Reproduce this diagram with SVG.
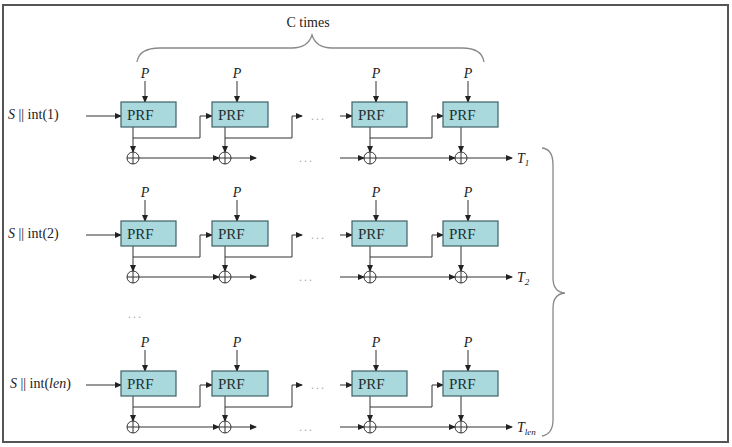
<svg xmlns="http://www.w3.org/2000/svg" width="732" height="447" viewBox="0 0 732 447" font-family="'Liberation Serif', 'Times New Roman', Times, serif">
<defs>
<marker id="ah" markerUnits="userSpaceOnUse" markerWidth="7" markerHeight="6" refX="6" refY="3" orient="auto"><path d="M0,0 L7,3 L0,6 z" fill="#222"/></marker>
<g id="xor"><circle r="6" fill="#fff" stroke="#333" stroke-width="1"/><path d="M-6,0 H6 M0,-6 V6" stroke="#333" stroke-width="1"/></g>
</defs>
<style>
text{font-family:'Liberation Serif','Times New Roman',Times,serif}
.box{fill:#aad9dd;stroke:#3f6166;stroke-width:1.2}
.lbl{font-size:14px;fill:#222}
.prf{font-size:15px;fill:#1e2e30}
.it{font-style:italic}
.dots{font-size:12px;fill:#aaa;letter-spacing:2px}
.ar{fill:none;stroke:#333;stroke-width:1;marker-end:url(#ah)}
.brace{fill:none;stroke:#888;stroke-width:1.3}
</style>
<rect x="3" y="5" width="725" height="437" fill="#fff" stroke="#555" stroke-width="2"/>

<g id="top-brace">
<text class="lbl" x="308" y="27" text-anchor="middle" font-size="13">C times</text>
<path class="brace" d="M137,62 Q139,48 160,48 L292,48 Q308,48 312,35 Q316,48 332,48 L462,48 Q482,48 484,62"/>
</g>
<g id="right-brace">
<path class="brace" d="M542,148 Q553,149 553,165 V278 Q553,292 565,293 Q553,294 553,308 V420 Q553,434 542,436"/>
</g>

<g id="connectors">
<path class="ar" d="M86,116 H121"/>
<path class="ar" d="M145,81 V102"/><path class="ar" d="M237,81 V102"/><path class="ar" d="M376,81 V102"/><path class="ar" d="M468,81 V102"/>
<path class="ar" d="M133,127 V152"/><path class="ar" d="M225,127 V152"/><path class="ar" d="M370,127 V152"/><path class="ar" d="M461,127 V152"/>
<path class="ar" d="M133,138 H200 V116 H212"/>
<path class="ar" d="M225,138 H292 V116 H302"/>
<path class="ar" d="M340,116 H352"/>
<path class="ar" d="M370,138 H432 V116 H443"/>
<path class="ar" d="M139,158 H219"/><path class="ar" d="M231,158 H256"/>
<path class="ar" d="M340,158 H364"/><path class="ar" d="M376,158 H455"/><path class="ar" d="M467,158 H512"/>
<g transform="translate(0,119)">
<path class="ar" d="M86,116 H121"/>
<path class="ar" d="M145,81 V102"/><path class="ar" d="M237,81 V102"/><path class="ar" d="M376,81 V102"/><path class="ar" d="M468,81 V102"/>
<path class="ar" d="M133,127 V152"/><path class="ar" d="M225,127 V152"/><path class="ar" d="M370,127 V152"/><path class="ar" d="M461,127 V152"/>
<path class="ar" d="M133,138 H200 V116 H212"/>
<path class="ar" d="M225,138 H292 V116 H302"/>
<path class="ar" d="M340,116 H352"/>
<path class="ar" d="M370,138 H432 V116 H443"/>
<path class="ar" d="M139,158 H219"/><path class="ar" d="M231,158 H256"/>
<path class="ar" d="M340,158 H364"/><path class="ar" d="M376,158 H455"/><path class="ar" d="M467,158 H512"/>
</g>
<g transform="translate(0,269)">
<path class="ar" d="M86,116 H121"/>
<path class="ar" d="M145,81 V102"/><path class="ar" d="M237,81 V102"/><path class="ar" d="M376,81 V102"/><path class="ar" d="M468,81 V102"/>
<path class="ar" d="M133,127 V152"/><path class="ar" d="M225,127 V152"/><path class="ar" d="M370,127 V152"/><path class="ar" d="M461,127 V152"/>
<path class="ar" d="M133,138 H200 V116 H212"/>
<path class="ar" d="M225,138 H292 V116 H302"/>
<path class="ar" d="M340,116 H352"/>
<path class="ar" d="M370,138 H432 V116 H443"/>
<path class="ar" d="M139,158 H219"/><path class="ar" d="M231,158 H256"/>
<path class="ar" d="M340,158 H364"/><path class="ar" d="M376,158 H455"/><path class="ar" d="M467,158 H512"/>
</g>
</g>

<g id="row1">
<g id="in1"><text class="lbl" x="8" y="119"><tspan class="it">S</tspan> || int(1)</text></g>
<g id="p1-1"><text class="lbl it" x="145" y="78" text-anchor="middle">P</text></g>
<g id="p1-2"><text class="lbl it" x="237" y="78" text-anchor="middle">P</text></g>
<g id="p1-3"><text class="lbl it" x="376" y="78" text-anchor="middle">P</text></g>
<g id="p1-4"><text class="lbl it" x="468" y="78" text-anchor="middle">P</text></g>
<g id="prf1-1"><rect class="box" x="121" y="102" width="55" height="25"/><text class="prf" x="127" y="120">PRF</text></g>
<g id="prf1-2"><rect class="box" x="212" y="102" width="56" height="25"/><text class="prf" x="218" y="120">PRF</text></g>
<g id="prf1-3"><rect class="box" x="352" y="102" width="55" height="25"/><text class="prf" x="358" y="120">PRF</text></g>
<g id="prf1-4"><rect class="box" x="443" y="102" width="55" height="25"/><text class="prf" x="449" y="120">PRF</text></g>
<g id="x1-1"><use href="#xor" x="133" y="158"/></g>
<g id="x1-2"><use href="#xor" x="225" y="158"/></g>
<g id="x1-3"><use href="#xor" x="370" y="158"/></g>
<g id="x1-4"><use href="#xor" x="461" y="158"/></g>
<g id="d1"><text class="dots" x="311" y="120">...</text><text class="dots" x="299" y="162">...</text></g>
<g id="t1"><text class="lbl it" x="517" y="163">T<tspan font-size="9" dy="3">1</tspan></text></g>
</g>

<g id="row2">
<g id="in2"><text class="lbl" x="8" y="238"><tspan class="it">S</tspan> || int(2)</text></g>
<g id="p2-1"><text class="lbl it" x="145" y="197" text-anchor="middle">P</text></g>
<g id="p2-2"><text class="lbl it" x="237" y="197" text-anchor="middle">P</text></g>
<g id="p2-3"><text class="lbl it" x="376" y="197" text-anchor="middle">P</text></g>
<g id="p2-4"><text class="lbl it" x="468" y="197" text-anchor="middle">P</text></g>
<g id="prf2-1"><rect class="box" x="121" y="221" width="55" height="25"/><text class="prf" x="127" y="239">PRF</text></g>
<g id="prf2-2"><rect class="box" x="212" y="221" width="56" height="25"/><text class="prf" x="218" y="239">PRF</text></g>
<g id="prf2-3"><rect class="box" x="352" y="221" width="55" height="25"/><text class="prf" x="358" y="239">PRF</text></g>
<g id="prf2-4"><rect class="box" x="443" y="221" width="55" height="25"/><text class="prf" x="449" y="239">PRF</text></g>
<g id="x2-1"><use href="#xor" x="133" y="277"/></g>
<g id="x2-2"><use href="#xor" x="225" y="277"/></g>
<g id="x2-3"><use href="#xor" x="370" y="277"/></g>
<g id="x2-4"><use href="#xor" x="461" y="277"/></g>
<g id="d2"><text class="dots" x="311" y="239">...</text><text class="dots" x="299" y="281">...</text></g>
<g id="t2"><text class="lbl it" x="517" y="282">T<tspan font-size="9" dy="3">2</tspan></text></g>
</g>

<g id="dots-mid"><text class="dots" x="128" y="318">...</text></g>

<g id="row3">
<g id="in3"><text class="lbl" x="10" y="388"><tspan class="it">S</tspan> || int(<tspan class="it">len</tspan>)</text></g>
<g id="p3-1"><text class="lbl it" x="145" y="347" text-anchor="middle">P</text></g>
<g id="p3-2"><text class="lbl it" x="237" y="347" text-anchor="middle">P</text></g>
<g id="p3-3"><text class="lbl it" x="376" y="347" text-anchor="middle">P</text></g>
<g id="p3-4"><text class="lbl it" x="468" y="347" text-anchor="middle">P</text></g>
<g id="prf3-1"><rect class="box" x="121" y="371" width="55" height="25"/><text class="prf" x="127" y="389">PRF</text></g>
<g id="prf3-2"><rect class="box" x="212" y="371" width="56" height="25"/><text class="prf" x="218" y="389">PRF</text></g>
<g id="prf3-3"><rect class="box" x="352" y="371" width="55" height="25"/><text class="prf" x="358" y="389">PRF</text></g>
<g id="prf3-4"><rect class="box" x="443" y="371" width="55" height="25"/><text class="prf" x="449" y="389">PRF</text></g>
<g id="x3-1"><use href="#xor" x="133" y="427"/></g>
<g id="x3-2"><use href="#xor" x="225" y="427"/></g>
<g id="x3-3"><use href="#xor" x="370" y="427"/></g>
<g id="x3-4"><use href="#xor" x="461" y="427"/></g>
<g id="d3"><text class="dots" x="311" y="389">...</text><text class="dots" x="299" y="431">...</text></g>
<g id="t3"><text class="lbl it" x="517" y="432">T<tspan font-size="9" dy="3">len</tspan></text></g>
</g>
</svg>
